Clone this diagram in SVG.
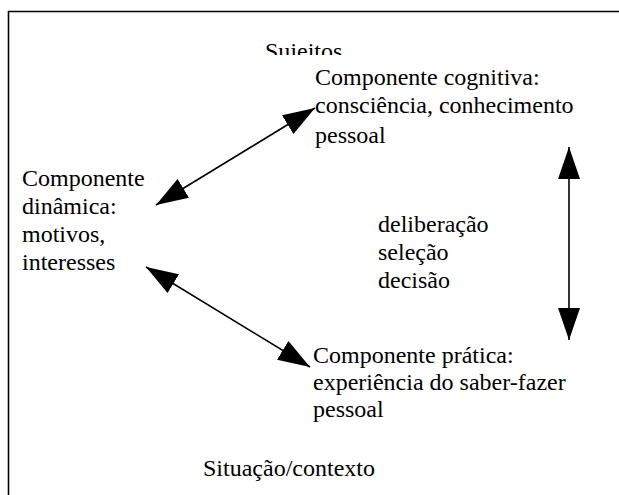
<svg xmlns="http://www.w3.org/2000/svg" width="619" height="495" viewBox="0 0 619 495">
<style>
.t{font-family:'Liberation Serif','Times New Roman',Times,serif;font-size:24px;fill:#000}
.ln{stroke:#000;stroke-width:1.6;fill:none}
</style>
<defs>
<marker id="ah" viewBox="0 0 32 22" refX="32" refY="11" markerWidth="32" markerHeight="22" markerUnits="userSpaceOnUse" orient="auto-start-reverse">
<path d="M0,0 L32,11 L0,22 Z" fill="#000"/>
</marker>
<clipPath id="cl"><rect x="0" y="0" width="619" height="55"/></clipPath>
</defs>
<rect width="619" height="495" fill="#fff"/>
<path class="ln" d="M8.5,495 V11.5 H619" stroke-width="2"/>
<g id="sujeitos" class="t" clip-path="url(#cl)"><text x="265" y="59">Sujeitos</text></g>
<g id="cognitiva" class="t">
<text x="315" y="85">Componente cognitiva:</text>
<text x="315" y="113">consciência, conhecimento</text>
<text x="315" y="143">pessoal</text>
</g>
<g id="dinamica" class="t">
<text x="22" y="186">Componente</text>
<text x="22" y="214">dinâmica:</text>
<text x="22" y="242">motivos,</text>
<text x="22" y="270">interesses</text>
</g>
<g id="processo" class="t">
<text x="378" y="232">deliberação</text>
<text x="378" y="260">seleção</text>
<text x="378" y="288">decisão</text>
</g>
<g id="pratica" class="t">
<text x="313" y="363">Componente prática:</text>
<text x="313" y="390">experiência do saber-fazer</text>
<text x="313" y="417">pessoal</text>
</g>
<g id="situacao" class="t"><text x="203" y="476">Situação/contexto</text></g>
<g id="connectors">
<line class="ln" x1="156" y1="205" x2="315" y2="108" marker-start="url(#ah)" marker-end="url(#ah)"/>
<line class="ln" x1="146" y1="267" x2="310" y2="367" marker-start="url(#ah)" marker-end="url(#ah)"/>
<line class="ln" x1="569" y1="147" x2="569" y2="340" marker-start="url(#ah)" marker-end="url(#ah)"/>
</g>
</svg>
